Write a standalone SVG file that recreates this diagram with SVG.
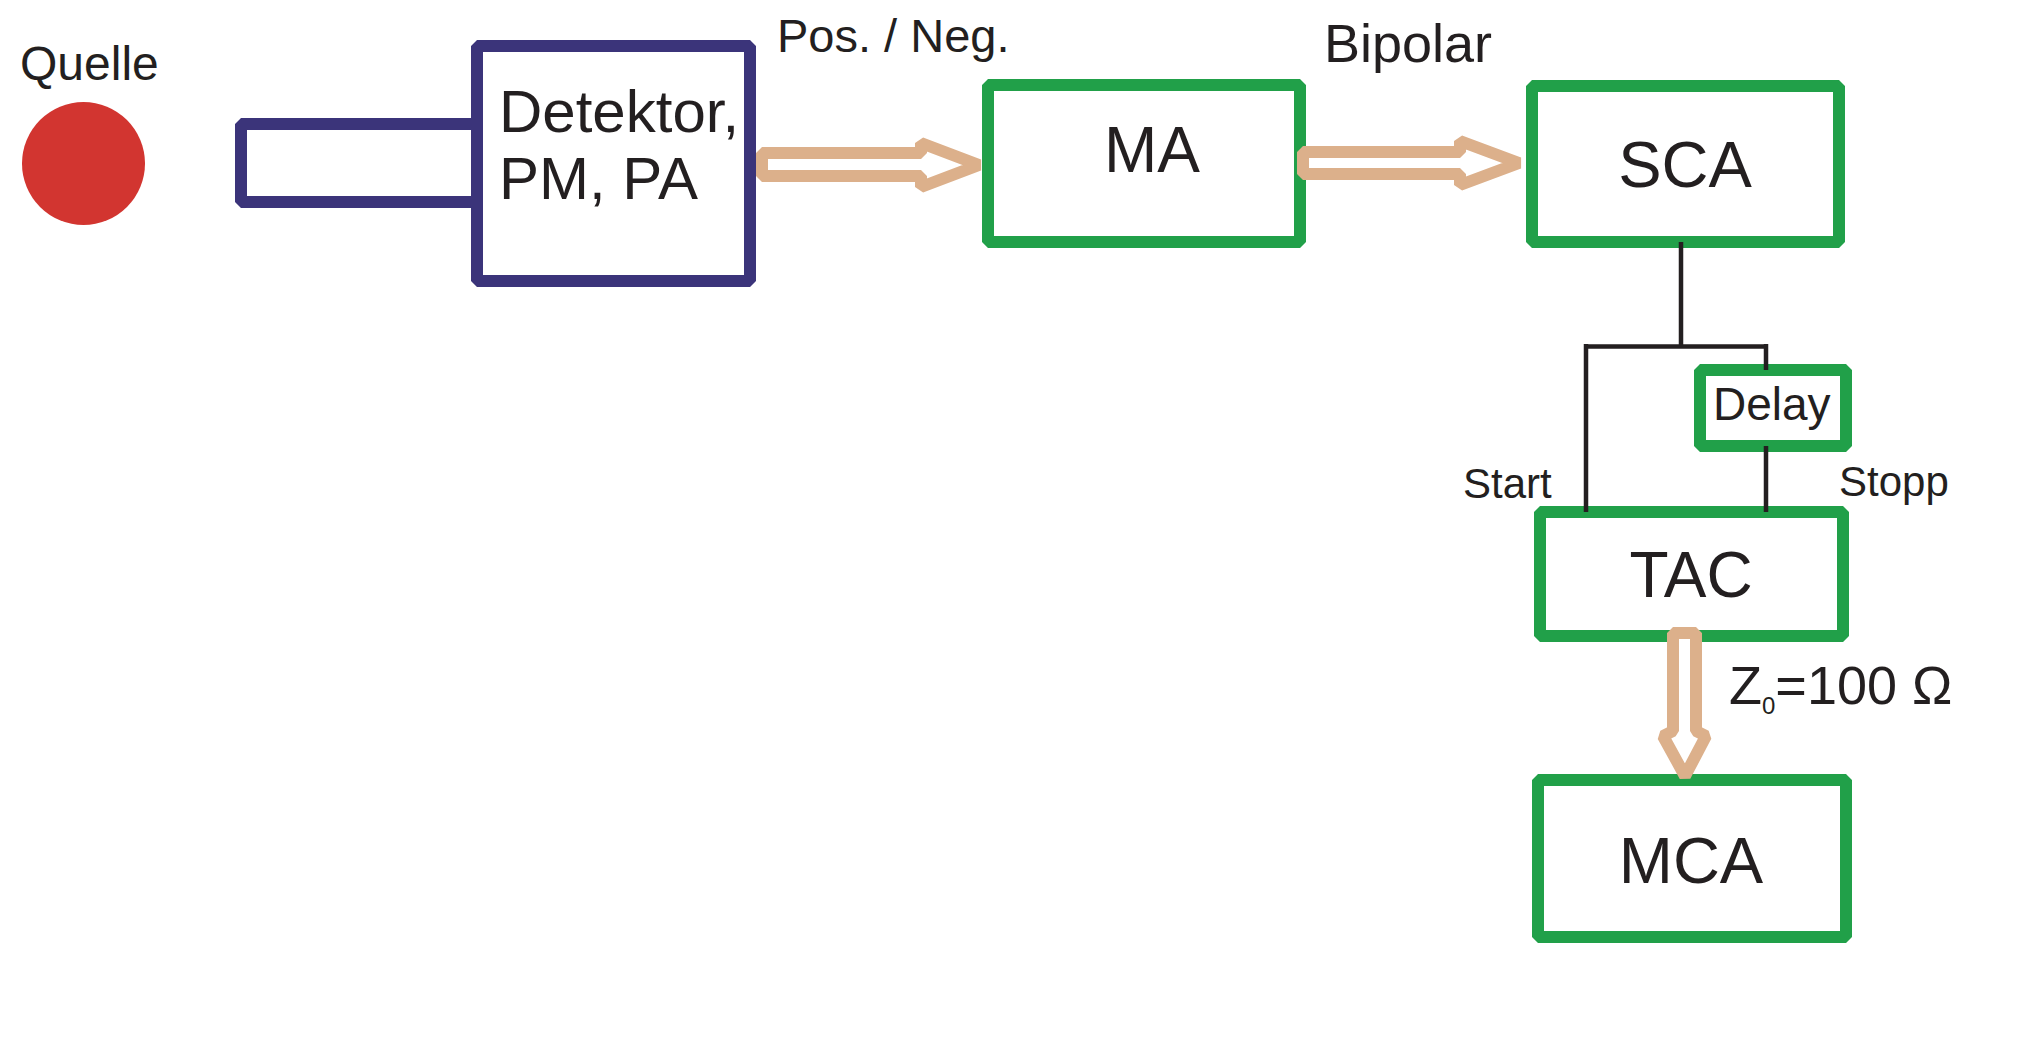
<svg xmlns="http://www.w3.org/2000/svg" width="2040" height="1052" viewBox="0 0 2040 1052">
<style>
text{font-family:"Liberation Sans",Arial,sans-serif;fill:#231f20}
.g{fill:#fff;stroke:#21a049;stroke-width:12;stroke-linejoin:bevel}
.p{fill:#fff;stroke:#3b347a;stroke-width:12;stroke-linejoin:bevel}
.arr{fill:#fff;stroke:#dcb08b;stroke-width:12;stroke-linejoin:bevel}
.w{fill:none;stroke:#231f20;stroke-width:4.5}
.c{text-anchor:middle}
</style>
<rect width="2040" height="1052" fill="#fff"/>
<g id="quelle">
<circle cx="83.5" cy="163.5" r="61.5" fill="#d23530"/>
<text x="20" y="80" font-size="48">Quelle</text>
</g>
<g id="detektor">
<path class="p" d="M477,124 H241 V202 H477"/>
<rect class="p" x="477" y="46" width="273" height="235"/>
<text x="499" y="132" font-size="60">Detektor,</text>
<text x="499" y="199" font-size="60">PM, PA</text>
</g>
<g id="ma">
<rect class="g" x="988" y="85" width="312" height="157"/>
<text class="c" x="1152" y="172" font-size="64">MA</text>
</g>
<g id="sca">
<rect class="g" x="1532" y="86" width="307" height="156"/>
<text class="c" x="1685" y="187" font-size="65">SCA</text>
</g>
<g id="delay">
<rect class="g" x="1700" y="370" width="146" height="76"/>
<text x="1713" y="420" font-size="46">Delay</text>
</g>
<g id="tac">
<rect class="g" x="1540" y="512" width="303" height="124"/>
<text class="c" x="1691" y="597" font-size="64">TAC</text>
</g>
<g id="mca">
<rect class="g" x="1538" y="780" width="308" height="157"/>
<text class="c" x="1691" y="883" font-size="65">MCA</text>
</g>
<g id="connectors">
<path class="w" d="M1681,242 V346.5 M1586,346.5 H1766 M1586,344 V512 M1766,344 V370 M1766,446 V512"/>
<path class="arr" d="M762,153 H921 V143 L979,165 L921,187 V176 H762 Z"/>
<path class="arr" d="M1303,152 H1460 V141 L1519,163 L1460,185 V174 H1303 Z"/>
<path class="arr" d="M1673,633 H1696 V731 L1706,736 L1685,776 L1663,736 L1673,731 Z"/>
</g>
<g id="labels">
<text x="777" y="52" font-size="47">Pos. / Neg.</text>
<text x="1324" y="62" font-size="54">Bipolar</text>
<text x="1463" y="498" font-size="42">Start</text>
<text x="1839" y="496" font-size="42">Stopp</text>
<text x="1729" y="704" font-size="54">Z<tspan font-size="24" dy="10">0</tspan><tspan dy="-10">=100 Ω</tspan></text>
</g>
</svg>
